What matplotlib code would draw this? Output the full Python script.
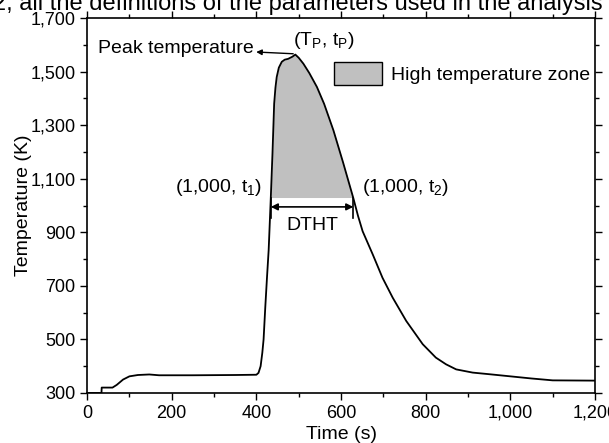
import matplotlib
matplotlib.use("Agg")
import matplotlib.pyplot as plt
import numpy as np
from matplotlib.patches import Patch
from matplotlib.ticker import MultipleLocator, FuncFormatter

plt.rcParams['font.family'] = ['Liberation Sans', 'DejaVu Sans']
plt.rcParams['mathtext.fontset'] = 'custom'
plt.rcParams['mathtext.rm'] = 'Liberation Sans'
plt.rcParams['mathtext.it'] = 'Liberation Sans'

# temperature history
time_s = [0, 34, 34.5, 60, 70, 85, 100, 120, 147, 170, 250, 350, 400, 405, 410,
          414, 417, 421, 425, 429, 434, 438, 442, 445, 448, 453, 460, 467, 475,
          485, 492, 500, 511, 525, 543, 560, 582, 605, 629, 640, 651, 675, 698,
          722, 754, 793, 824, 848, 872, 911, 950, 1000, 1050, 1100, 1200]
temp_k = [300, 300, 320, 320, 330, 350, 362, 367, 369, 366, 366, 367, 368, 375,
          400, 450, 500, 620, 730, 834, 1028, 1194, 1381, 1440, 1480, 1515,
          1537, 1545, 1548, 1556, 1564, 1552, 1530, 1495, 1443, 1380, 1281,
          1160, 1028, 962, 904, 817, 730, 656, 569, 482, 432, 407, 388, 376,
          370, 362, 354, 347, 346]

threshold = 1030   # bottom of the shaded zone
t1, t2 = 434, 629
tp, Tp = 492, 1564

x = np.array(time_s, dtype=float)
y = np.array(temp_k, dtype=float)

fig = plt.figure(figsize=(6.09, 4.43), dpi=100)
ax = fig.add_axes([0.143, 0.113, 0.834, 0.846])

fig.text(-0.012, 1 - 10 / 443, "2, all the definitions of the parameters used in the analysis",
         fontsize=17, va='baseline', ha='left')

ax.fill_between(x, threshold, y, where=y >= threshold, interpolate=True,
                color='#c0c0c0', linewidth=0)
ax.plot(x, y, color='black', lw=1.3)

# DTHT markers
ax.plot([t1, t1], [threshold, 955], color='black', lw=1.2)
ax.plot([t2, t2], [threshold, 955], color='black', lw=1.2)
ax.annotate('', xy=(t1, 995), xytext=(t2, 995),
            arrowprops=dict(arrowstyle='<|-|>', color='black', lw=1.2,
                            mutation_scale=10, shrinkA=0, shrinkB=0))
ax.text((t1 + t2) / 2, 925, 'DTHT', fontsize=14, ha='center', va='center')
ax.text(t1 - 20, 1069, r'(1,000, t$_\mathrm{1}$)', fontsize=14, ha='right', va='center')
ax.text(t2 + 21, 1069, r'(1,000, t$_\mathrm{2}$)', fontsize=14, ha='left', va='center')

# peak annotation
ax.text(tp - 5, 1617, r'(T$_\mathrm{P}$, t$_\mathrm{P}$)', fontsize=14, ha='left', va='center')
ax.annotate('Peak temperature', xy=(tp - 5, Tp + 3), xytext=(25, 1588),
            fontsize=14, ha='left', va='center',
            arrowprops=dict(arrowstyle='<|-', color='black', lw=1.0,
                            mutation_scale=8, shrinkA=0, shrinkB=0))

handle = Patch(facecolor='#c0c0c0', edgecolor='black', linewidth=1.0)
ax.legend([handle], ['High temperature zone'], loc='upper right',
          bbox_to_anchor=(1.006, 0.905), frameon=False, fontsize=14,
          handlelength=2.5, handleheight=1.45, handletextpad=0.45,
          borderaxespad=0.0)

ax.set_xlim(0, 1200)
ax.set_ylim(300, 1700)
ax.xaxis.set_major_locator(MultipleLocator(200))
ax.xaxis.set_minor_locator(MultipleLocator(100))
ax.yaxis.set_minor_locator(MultipleLocator(100))
comma = FuncFormatter(lambda v, p: f"{v:,.0f}")
ax.xaxis.set_major_formatter(comma)
ax.yaxis.set_major_formatter(comma)
ax.set_yticks(np.arange(300, 1701, 200))

ax.tick_params(which='both', direction='out', labelsize=13, width=1.0)
ax.tick_params(which='major', length=5)
ax.tick_params(which='minor', length=3)
ax.tick_params(which='both', top=True, right=True)
for side in ['top', 'right', 'left', 'bottom']:
    ax.spines[side].set_linewidth(1.2)

ax.set_xlabel('Time (s)', fontsize=14, labelpad=3)
ax.set_ylabel('Temperature (K)', fontsize=14, labelpad=-1)

fig.savefig('out.png', dpi=100)
